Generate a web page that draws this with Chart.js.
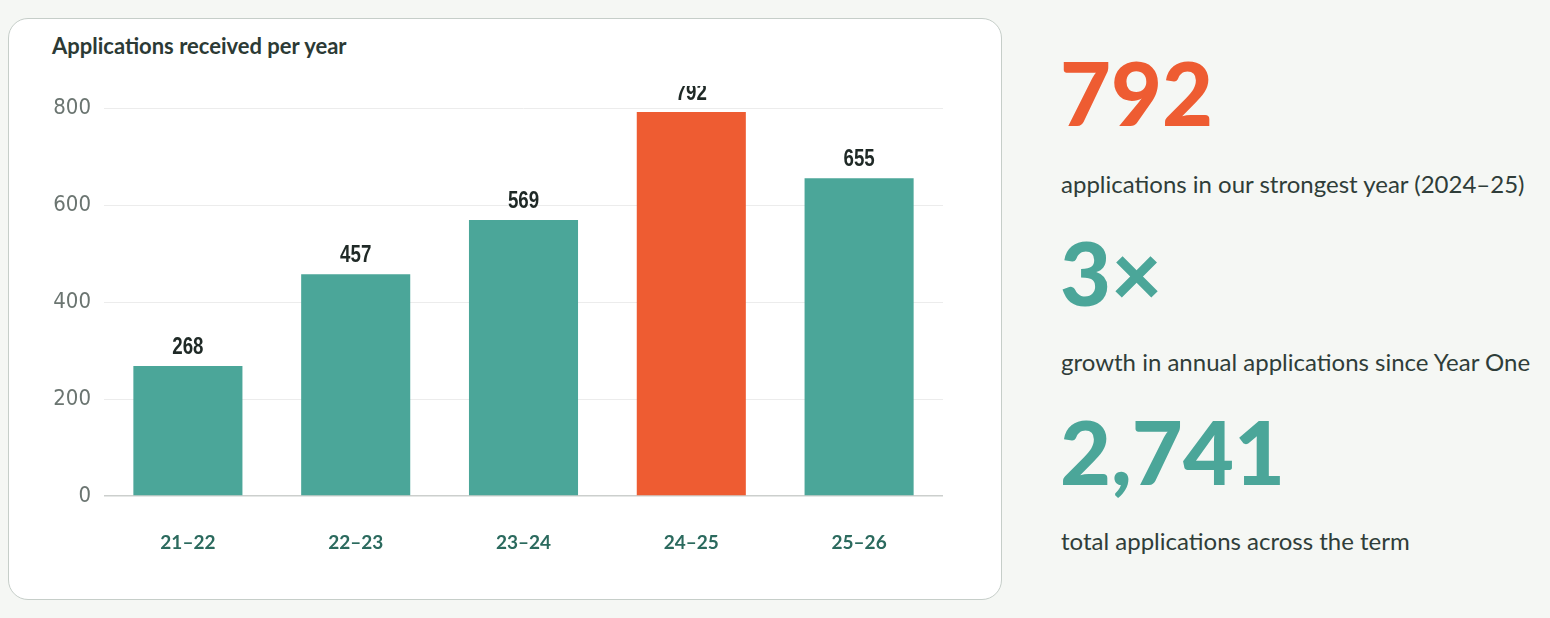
<!DOCTYPE html>
<html>
<head>
<meta charset="utf-8">
<script src="https://cdn.jsdelivr.net/npm/chart.js@4.4.1/dist/chart.umd.min.js"></script>
<style>
    html, body { margin: 0; padding: 0; }
    body {
        width: 1550px;
        height: 618px;
        background: #f5f7f4;
        position: relative;
        overflow: hidden;
        font-family: Lato, "Open Sans", sans-serif;
    }
    .card {
        position: absolute;
        left: 8px;
        top: 18px;
        width: 992px;
        height: 580px;
        background: #fff;
        border: 1px solid #c6cec9;
        border-radius: 20px;
    }
    .card h2 {
        position: absolute;
        left: 43px;
        top: 13px;
        margin: 0;
        font-size: 22px;
        font-weight: 700;
        color: #2c3a35;
    }
    .chart-box {
        position: absolute;
        left: 31px;
        top: 67px;
        width: 920px;
        height: 496px;
    }
    .stats { position: absolute; left: 1060px; top: 0; }
    .big {
        position: absolute;
        left: 0;
        font-size: 88px;
        font-weight: 900;
        line-height: 1;
        white-space: nowrap;
    }
    .sub {
        position: absolute;
        left: 1px;
        font-size: 24px;
        color: #2f3d39;
        white-space: nowrap;
    }
</style>
</head>
<body>
<div class="card">
    <h2>Applications received per year</h2>
    <div class="chart-box"><canvas id="appsChart"></canvas></div>
</div>

<div class="stats">
    <div class="big" style="top:48px;color:#ee5c32;">792</div>
    <div class="sub" style="top:169px;">applications in our strongest year (2024–25)</div>
    <div class="big" style="top:228px;color:#4ba699;">3×</div>
    <div class="sub" style="top:347px;">growth in annual applications since Year One</div>
    <div class="big" style="top:407px;color:#4ba699;">2,741</div>
    <div class="sub" style="top:526px;">total applications across the term</div>
</div>

<script>
// Chart data
const years = ['21–22', '22–23', '23–24', '24–25', '25–26'];
const applications = [268, 457, 569, 792, 655];
const barColors = ['#4ba699', '#4ba699', '#4ba699', '#ee5c32', '#4ba699'];
const yTicks = [0, 200, 400, 600, 800];

// Draw the value above each bar (squeezed a bit, no narrow font installed)
const valueLabels = {
    id: 'valueLabels',
    afterDatasetsDraw(chart) {
        const ctx = chart.ctx;
        const meta = chart.getDatasetMeta(0);
        ctx.save();
        ctx.font = 'bold 24px "Liberation Sans", Arial, sans-serif';
        ctx.fillStyle = '#1f2926';
        ctx.textAlign = 'center';
        ctx.textBaseline = 'alphabetic';
        meta.data.forEach((bar, i) => {
            ctx.save();
            ctx.translate(bar.x, bar.y - 12);
            ctx.scale(0.78, 1);
            ctx.fillText(applications[i], 0, 0);
            ctx.restore();
        });
        ctx.restore();
    }
};

document.addEventListener('DOMContentLoaded', function() {
    const ctx = document.getElementById('appsChart').getContext('2d');
    new Chart(ctx, {
        type: 'bar',
        data: {
            labels: years,
            datasets: [{
                data: applications,
                backgroundColor: barColors,
                borderWidth: 0,
                categoryPercentage: 0.65,
                barPercentage: 1.0
            }]
        },
        options: {
            responsive: true,
            maintainAspectRatio: false,
            animation: false,
            layout: { padding: { top: 22, right: 17, left: 0, bottom: 0 } },
            plugins: {
                legend: { display: false },
                tooltip: { enabled: false }
            },
            scales: {
                x: {
                    grid: { display: false },
                    border: { display: false },
                    ticks: {
                        color: '#2b6a5e',
                        padding: 27,
                        font: { family: 'Lato, "Open Sans", sans-serif', size: 19, weight: 'bold' }
                    },
                    afterFit: scale => { scale.height = 86; }
                },
                y: {
                    min: 0,
                    max: 800,
                    afterBuildTicks: scale => { scale.ticks = yTicks.map(v => ({ value: v })); },
                    grid: {
                        color: ctx => ctx.tick && ctx.tick.value === 0 ? '#cccfcd' : '#ececec',
                        lineWidth: ctx => ctx.tick && ctx.tick.value === 0 ? 1.5 : 1,
                        drawTicks: false
                    },
                    border: { display: false },
                    ticks: {
                        color: '#6b7571',
                        padding: 13,
                        font: { family: '"DejaVu Sans Condensed", "Liberation Sans Narrow", sans-serif', size: 22, lineHeight: 0.7 }
                    },
                    afterFit: scale => { scale.width = 64; }
                }
            }
        },
        plugins: [valueLabels]
    });
});
</script>
</body>
</html>
